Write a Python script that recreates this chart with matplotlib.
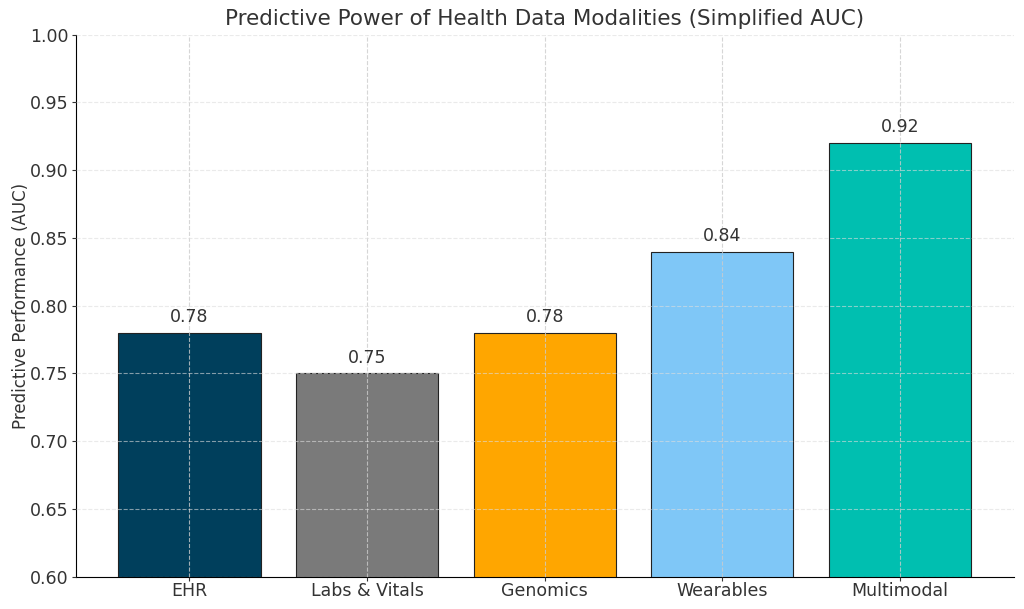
import matplotlib.pyplot as plt

modalities = ["EHR", "Labs & Vitals", "Genomics", "Wearables", "Multimodal"]
auc_scores = [0.78, 0.75, 0.78, 0.84, 0.92]
bar_colors = ["#003f5c", "#7a7a7a", "#ffa600", "#7fc7f7", "#00bfb0"]

plt.rcParams["text.color"] = "#333333"
plt.rcParams["axes.labelcolor"] = "#333333"
plt.rcParams["xtick.color"] = "#333333"
plt.rcParams["ytick.color"] = "#333333"

fig, ax = plt.subplots(figsize=(10.24, 6.09), dpi=100)
bars = ax.bar(modalities, auc_scores, color=bar_colors, edgecolor="#222222", linewidth=0.8)

for bar, score in zip(bars, auc_scores):
    ax.text(
        bar.get_x() + bar.get_width() / 2,
        bar.get_height() + 0.005,
        f"{score:.2f}",
        ha="center",
        va="bottom",
        fontsize=12.5,
    )

ax.set_ylim(0.6, 1.0)
ax.set_title("Predictive Power of Health Data Modalities (Simplified AUC)", fontsize=15.5, pad=7)
ax.set_ylabel("Predictive Performance (AUC)", fontsize=12, labelpad=0.5)
ax.tick_params(axis="both", labelsize=12.5, length=3, pad=2)
ax.tick_params(axis="x", pad=0.5)
ax.xaxis.grid(True, linestyle="--", color="#cccccc", linewidth=0.8, alpha=0.8)
ax.yaxis.grid(True, linestyle="--", color="#dddddd", linewidth=0.8, alpha=0.6)
ax.set_axisbelow(False)
ax.spines["top"].set_visible(False)
ax.spines["right"].set_visible(False)

fig.subplots_adjust(left=0.074, right=0.99, top=0.943, bottom=0.053)
plt.savefig("out.png")
